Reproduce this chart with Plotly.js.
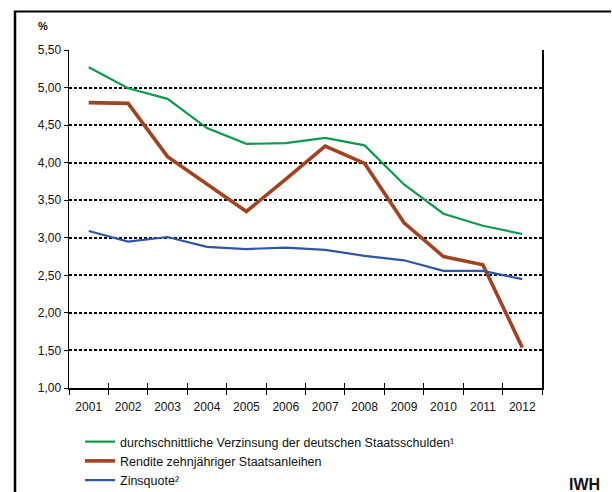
<!DOCTYPE html>
<html>
<head>
<meta charset="utf-8">
<script src="https://cdn.plot.ly/plotly-3.0.1.min.js"></script>
<style>
  html, body { margin: 0; padding: 0; background: #fff; overflow: hidden; }
  #chart { width: 612px; height: 492px; }
</style>
</head>
<body>
<div id="chart"></div>
<script>
// ---- data ----
const years = ["2001","2002","2003","2004","2005","2006","2007","2008","2009","2010","2011","2012"];
const verzinsung = [5.27, 4.99, 4.85, 4.46, 4.25, 4.26, 4.33, 4.23, 3.71, 3.32, 3.16, 3.05];
const rendite    = [4.80, 4.79, 4.08, 3.71, 3.35, 3.78, 4.22, 3.99, 3.20, 2.75, 2.64, 1.54];
const zinsquote  = [3.09, 2.95, 3.01, 2.88, 2.85, 2.87, 2.84, 2.76, 2.70, 2.56, 2.56, 2.45];
const names = [
  "durchschnittliche Verzinsung der deutschen Staatsschulden\u00B9",
  "Rendite zehnjähriger Staatsanleihen",
  "Zinsquote\u00B2"
];
const yTicks = [1.0, 1.5, 2.0, 2.5, 3.0, 3.5, 4.0, 4.5, 5.0, 5.5];

// ---- layout geometry (pixels) ----
const W = 612, H = 492;
const L = 69, R = 542, T = 50, B = 388;
const px2x = p => (p - L) / (R - L);
const px2y = p => (B - p) / (B - T);

const FONT = "Liberation Sans, Arial, sans-serif";

const traces = [
  { x: years, y: verzinsung, name: names[0], type: "scatter", mode: "lines",
    line: { color: "#0f9a4c", width: 2.2 }, hoverinfo: "skip" },
  { x: years, y: rendite, name: names[1], type: "scatter", mode: "lines",
    line: { color: "#a3421f", width: 3.6 }, hoverinfo: "skip" },
  { x: years, y: zinsquote, name: names[2], type: "scatter", mode: "lines",
    line: { color: "#2f55a8", width: 2.2 }, hoverinfo: "skip" },
  // carrier for the inner tick marks of the overlaid x axis
  { x: years, y: zinsquote, xaxis: "x2", type: "scatter", mode: "lines",
    line: { color: "rgba(0,0,0,0)", width: 0 }, showlegend: false, hoverinfo: "skip" }
];

const layout = {
  width: W, height: H,
  margin: { l: L, r: W - R, t: T, b: H - B, pad: 0, autoexpand: false },
  paper_bgcolor: "#fff", plot_bgcolor: "#fff",
  separators: ",.",
  font: { family: FONT, size: 12, color: "#111" },
  showlegend: true,
  legend: {
    x: px2x(80), xanchor: "left",
    y: px2y(427), yanchor: "top",
    font: { family: FONT, size: 12.5, color: "#111" },
    bgcolor: "rgba(0,0,0,0)", borderwidth: 0,
    traceorder: "normal", tracegroupgap: 0
  },
  xaxis: {
    type: "category", categoryarray: years, range: [-0.5, 11.5],
    tickson: "boundaries", ticks: "outside", ticklen: 5, tickwidth: 1, tickcolor: "#000",
    showline: true, linecolor: "#000", linewidth: 1.5, mirror: false,
    showgrid: false, zeroline: false, fixedrange: true,
    tickfont: { family: FONT, size: 12, color: "#111" },
    ticklabelstandoff: 7
  },
  xaxis2: {
    type: "category", categoryarray: years, range: [-0.5, 11.5],
    overlaying: "x", anchor: "y", side: "bottom",
    tickson: "boundaries", ticks: "inside", ticklen: 5, tickwidth: 1, tickcolor: "#000",
    showticklabels: false, showline: false, showgrid: false, zeroline: false
  },
  yaxis: {
    range: [1.0, 5.5], tickmode: "array", tickvals: yTicks, tickformat: ".2f",
    ticks: "outside", ticklen: 4, tickwidth: 1, tickcolor: "#000",
    showline: true, linecolor: "#000", linewidth: 1.5, mirror: true,
    showgrid: true, gridcolor: "#000", gridwidth: 2, griddash: "3px,2px",
    zeroline: false, fixedrange: true,
    tickfont: { family: FONT, size: 12, color: "#111" }
  },
  shapes: [
    // outer frame (left and top edges; right and bottom run off the picture)
    { type: "line", xref: "paper", yref: "paper",
      x0: px2x(15), x1: px2x(15), y0: px2y(11), y1: px2y(492),
      line: { color: "#000", width: 2.5 } },
    { type: "line", xref: "paper", yref: "paper",
      x0: px2x(14), x1: px2x(611), y0: px2y(11.5), y1: px2y(11.5),
      line: { color: "#000", width: 2 } }
  ],
  annotations: [
    { text: "<b>%</b>", xref: "paper", yref: "paper",
      x: px2x(43), y: px2y(26), xanchor: "center", yanchor: "middle",
      showarrow: false, font: { family: FONT, size: 11, color: "#111" } },
    { text: "<b>IWH</b>", xref: "paper", yref: "paper",
      x: px2x(584), y: px2y(484), xanchor: "center", yanchor: "middle",
      showarrow: false, font: { family: FONT, size: 16, color: "#111" } }
  ]
};

Plotly.newPlot("chart", traces, layout, { staticPlot: true, displayModeBar: false });
</script>
</body>
</html>
